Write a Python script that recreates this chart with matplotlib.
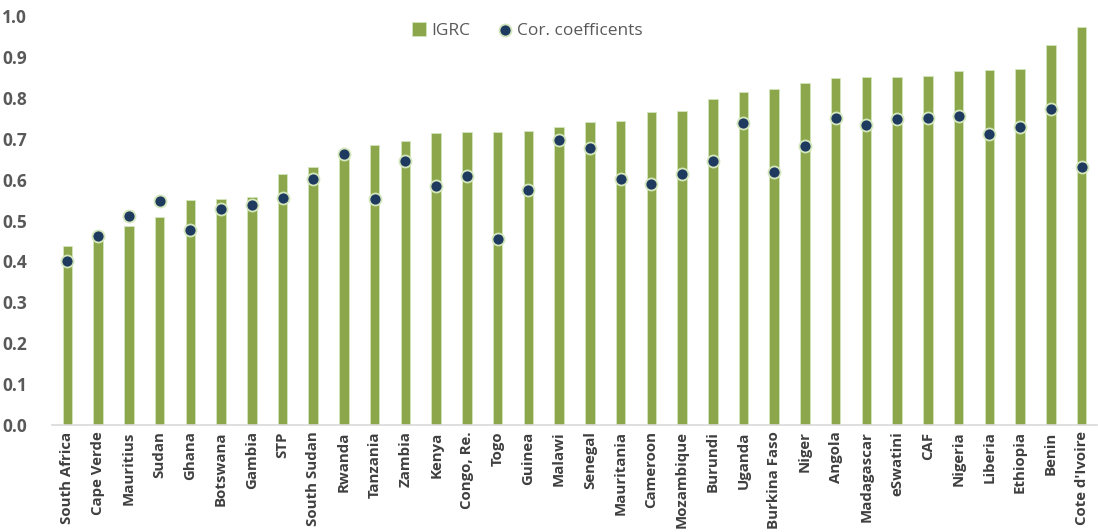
import matplotlib.pyplot as plt
import numpy as np

countries = ["South Africa", "Cape Verde", "Mauritius", "Sudan", "Ghana", "Botswana",
             "Gambia", "STP", "South Sudan", "Rwanda", "Tanzania", "Zambia", "Kenya",
             "Congo, Re.", "Togo", "Guinea", "Malawi", "Senegal", "Mauritania",
             "Cameroon", "Mozambique", "Burundi", "Uganda", "Burkina Faso", "Niger",
             "Angola", "Madagascar", "eSwatini", "CAF", "Nigeria", "Liberia",
             "Ethiopia", "Benin", "Cote d'Ivoire"]
igrc = [0.437, 0.462, 0.487, 0.508, 0.550, 0.553, 0.558, 0.614, 0.631, 0.660,
        0.685, 0.695, 0.714, 0.717, 0.718, 0.719, 0.729, 0.741, 0.744, 0.765,
        0.769, 0.798, 0.815, 0.822, 0.836, 0.849, 0.851, 0.852, 0.854, 0.866,
        0.869, 0.871, 0.931, 0.974]
cor_coef = [0.402, 0.463, 0.511, 0.548, 0.477, 0.527, 0.537, 0.554, 0.602, 0.663,
            0.553, 0.646, 0.585, 0.610, 0.455, 0.576, 0.697, 0.678, 0.601, 0.589,
            0.614, 0.646, 0.740, 0.618, 0.683, 0.752, 0.734, 0.748, 0.751, 0.757,
            0.712, 0.728, 0.774, 0.632]

GREEN = "#8BA64B"
NAVY = "#1E3A5F"
PALE = "#D3E6BC"
GREY = "#595959"

plt.rcParams['font.family'] = ['Open Sans', 'DejaVu Sans']

fig = plt.figure(figsize=(10.98, 5.32), dpi=100)
ax = fig.add_axes([0.0474, 0.202, 0.9516, 0.767])

x = np.arange(len(countries))
bars = ax.bar(x, igrc, width=0.31, color=GREEN, edgecolor=PALE, linewidth=0.6,
              label="IGRC", zorder=2)
dots = ax.scatter(x, cor_coef, s=75, color=NAVY, edgecolor=PALE, linewidth=1.3,
                  label="Cor. coefficents", zorder=3)

ax.set_xlim(-0.5, len(countries) - 0.5)
ax.set_ylim(0, 1.0)
ax.set_yticks(np.arange(0, 1.01, 0.1))
ax.set_yticklabels([f"{v:.1f}" for v in np.arange(0, 1.01, 0.1)],
                   fontsize=12.5, fontweight="bold", color=GREY)
ax.set_xticks(x)
ax.set_xticklabels(countries, rotation=90, fontsize=10.8, fontweight="bold",
                   color="#3F3F3F")
ax.tick_params(axis="both", length=0)
ax.tick_params(axis="y", pad=18)
ax.tick_params(axis="x", pad=5)

for s in ["top", "right", "left"]:
    ax.spines[s].set_visible(False)
ax.spines["bottom"].set_color("#D9D9D9")
ax.spines["bottom"].set_linewidth(1.2)

ax.legend(handles=[bars, dots], loc="center", bbox_to_anchor=(0.455, 0.965),
          ncol=2, frameon=False, fontsize=12.5, labelcolor=GREY,
          handlelength=0.8, handleheight=0.8, handletextpad=0.3,
          columnspacing=1.6)

fig.savefig("out.png", dpi=100)
